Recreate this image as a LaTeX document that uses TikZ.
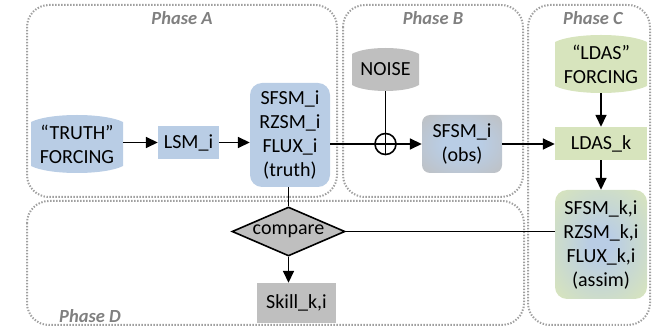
\documentclass[tikz,border=0pt]{standalone}
\usepackage{fontspec}
\setmainfont{Carlito}
\usetikzlibrary{arrows.meta,shapes.geometric,calc}
\definecolor{cblue}{RGB}{185,205,229}
\definecolor{cgray}{RGB}{191,191,191}
\definecolor{cgreen}{RGB}{215,228,189}
\definecolor{cphase}{RGB}{128,128,128}
\definecolor{cdot}{RGB}{160,160,160}
\pgfdeclareradialshading{obsshade}{\pgfpoint{0bp}{0bp}}{color(0bp)=(cblue); color(12bp)=(cblue); color(38bp)=(cgray); color(50bp)=(cgray)}
\pgfdeclareradialshading{assimshade}{\pgfpoint{0bp}{0bp}}{color(0bp)=(cblue); color(6bp)=(cblue); color(34bp)=(cgreen); color(50bp)=(cgreen)}
% drum: #1 name, #2 x, #3 y, #4 w, #5 h, #6 bulge, #7 colour, #8 text
\newcommand\mydrum[8]{%
  \fill[#7] ({#2-#4/2},{#3-#5/2+#6})
    .. controls ({#2-#4/2+0.2*#4},{#3-#5/2-#6/3}) and ({#2+#4/2-0.2*#4},{#3-#5/2-#6/3}) .. ({#2+#4/2},{#3-#5/2+#6})
    -- ({#2+#4/2},{#3+#5/2-#6})
    .. controls ({#2+#4/2-0.2*#4},{#3+#5/2+#6/3}) and ({#2-#4/2+0.2*#4},{#3+#5/2+#6/3}) .. ({#2-#4/2},{#3+#5/2-#6})
    -- cycle;
  \node[txt, minimum width=#4 pt, minimum height=#5 pt] (#1) at (#2,#3) {#8};%
}
\begin{document}
\begin{tikzpicture}[x=1pt,y=-1pt,
  font=\fontsize{20}{24}\selectfont,
  txt/.style={inner sep=0pt, align=center, text=black},
  box/.style={txt},
  rbox/.style={txt, rounded corners=12pt},
  phasebox/.style={draw=cdot, line width=2pt, dash pattern=on 1.4pt off 1.6pt, rounded corners=22pt},
  plabel/.style={font=\fontsize{18.5}{20}\selectfont\bfseries\itshape, text=cphase, inner sep=0pt},
  ln/.style={draw=black, line width=1.6pt},
  arr/.style={ln, -{Triangle[length=12pt,width=11pt]}}
]
\useasboundingbox (0,0) rectangle (653,328);
% phase boxes
\draw[phasebox] (27,5) rectangle (337,197);
\draw[phasebox] (343,5) rectangle (523,197);
\draw[phasebox] (528,5) rectangle (650,325);
\draw[phasebox] (27,201) rectangle (524,325);
\node[plabel] (pa) at (182,18) {Phase A};
\node[plabel] (pb) at (433,18) {Phase B};
\node[plabel] (pc) at (593,18) {Phase C};
\node[plabel] (pd) at (90,316) {Phase D};
% nodes
\mydrum{tf}{77}{144}{92}{58}{7}{cblue}{“TRUTH”\\FORCING}
\node[box, fill=cblue, minimum width=61pt, minimum height=33pt] (lsm) at (188.5,142.5) {LSM\_i};
\node[rbox, fill=cblue, minimum width=80pt, minimum height=104pt] (truth) at (290,135) {SFSM\_i\\RZSM\_i\\FLUX\_i\\(truth)};
\mydrum{noise}{385.5}{69.5}{67}{43}{6}{cgray}{NOISE}
\node[draw=black, line width=1.6pt, circle, inner sep=0pt, minimum size=21pt] (op) at (385.5,144) {};
\node[rbox, rounded corners=8pt, shading=obsshade, minimum width=80pt, minimum height=58pt] (obs) at (462,144) {SFSM\_i\\(obs)};
\mydrum{ldf}{601}{64}{92}{58}{7}{cgreen}{“LDAS”\\FORCING}
\node[box, fill=cgreen, minimum width=92pt, minimum height=33pt] (ldas) at (601,143.5) {LDAS\_k};
\node[rbox, shading=assimshade, minimum width=92pt, minimum height=109pt] (assim) at (601,244.5) {SFSM\_k,i\\RZSM\_k,i\\FLUX\_k,i\\(assim)};
\node[diamond, draw=black, line width=1.6pt, fill=cgray, aspect=2.3, inner sep=0pt, minimum width=113pt, minimum height=49pt, text=black] (cmp) at (288.5,231.5) {compare};
\node[box, fill=cgray, minimum width=79pt, minimum height=40pt] (skill) at (296.5,303) {Skill\_k,i};
% connectors
\draw[arr] (tf.east |- lsm.west) -- (lsm.west);
\draw[arr] (lsm.east) -- (lsm.east -| truth.west);
\draw[arr] (truth.east |- op) -- (obs.west |- op);
\draw[ln] (noise.south) -- (op.south);
\draw[ln] (op.west) -- (op.east);
\draw[arr] (obs.east) -- (obs.east -| ldas.west);
\draw[arr] (ldf.south) -- (ldas.north);
\draw[arr] (ldas.south) -- (assim.north);
\draw[ln] (truth.south -| cmp.north) -- (cmp.north);
\draw[ln] (assim.west |- cmp.east) -- (cmp.east);
\draw[arr] (cmp.south) -- (cmp.south |- skill.north);
\end{tikzpicture}
\end{document}
